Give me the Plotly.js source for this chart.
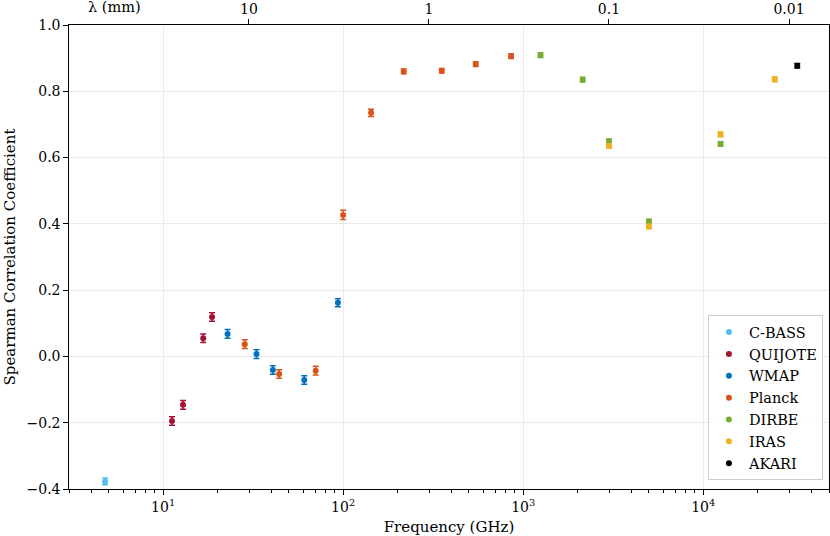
<!DOCTYPE html>
<html>
<head>
<meta charset="utf-8">
<script src="https://cdn.plot.ly/plotly-3.0.1.min.js"></script>
<style>html,body{margin:0;padding:0;background:#fff;}#chart{width:830px;height:536px;}</style>
</head>
<body>
<div id="chart"></div>
<script>
// Frequencies (GHz), Spearman coefficients, and uncertainties per survey
const cbassFreq = [4.76];
const cbassRho  = [-0.377];
const cbassErr  = [0.010];

const quijoteFreq = [11.2, 12.9, 16.7, 18.7];
const quijoteRho  = [-0.195, -0.146, 0.055, 0.119];
const quijoteErr  = [0.013, 0.013, 0.013, 0.013];

const wmapFreq = [22.8, 33.0, 40.7, 60.8, 93.5];
const wmapRho  = [0.068, 0.007, -0.041, -0.071, 0.162];
const wmapErr  = [0.013, 0.013, 0.013, 0.013, 0.012];

const planckFreq = [28.4, 44.1, 70.4, 100, 143, 217, 353, 545, 857];
const planckRho  = [0.037, -0.053, -0.043, 0.427, 0.735, 0.860, 0.862, 0.882, 0.906];
const planckErr  = [0.013, 0.013, 0.013, 0.014, 0.011, 0.007, 0.007, 0.007, 0.007];

const dirbeFreq = [1249, 2141, 2998, 4997, 12490];
const dirbeRho  = [0.909, 0.835, 0.649, 0.407, 0.641];
const dirbeErr  = [0.007, 0.007, 0.007, 0.007, 0.007];

const irasFreq = [2998, 4997, 12490, 24980];
const irasRho  = [0.635, 0.392, 0.670, 0.836];
const irasErr  = [0.007, 0.007, 0.007, 0.007];

const akariFreq = [33310];
const akariRho  = [0.877];
const akariErr  = [0.007];

// Bottom axis decade labels
const freqDecades = [1, 2, 3, 4];
// Top axis: wavelength (mm) tick labels
const lambdaTicks = [10, 1, 0.1, 0.01];
const lambdaLabels = ['10', '1', '0.1', '0.01'];
const C_MM_GHZ = 299.792458;

const series = [
  {name: 'C-BASS',  x: cbassFreq,   y: cbassRho,   e: cbassErr,   c: '#4DBEEE'},
  {name: 'QUIJOTE', x: quijoteFreq, y: quijoteRho, e: quijoteErr, c: '#A2142F'},
  {name: 'WMAP',    x: wmapFreq,    y: wmapRho,    e: wmapErr,    c: '#0072BD'},
  {name: 'Planck',  x: planckFreq,  y: planckRho,  e: planckErr,  c: '#D95319'},
  {name: 'DIRBE',   x: dirbeFreq,   y: dirbeRho,   e: dirbeErr,   c: '#77AC30'},
  {name: 'IRAS',    x: irasFreq,    y: irasRho,    e: irasErr,    c: '#EDB120'},
  {name: 'AKARI',   x: akariFreq,   y: akariRho,   e: akariErr,   c: '#000000'}
];

const font = 'DejaVu Serif, Liberation Serif, serif';

const traces = series.map(s => ({
  type: 'scatter', mode: 'markers', name: s.name,
  x: s.x, y: s.y,
  marker: {color: s.c, size: 6, symbol: 'circle'},
  error_y: {type: 'data', array: s.e, visible: true, color: s.c, thickness: 1.5, width: 3},
  xaxis: 'x', yaxis: 'y'
}));

// invisible helper trace so the top (wavelength) axis is drawn
traces.push({type: 'scatter', mode: 'markers', x: [100], y: [0], xaxis: 'x2', yaxis: 'y',
  marker: {opacity: 0}, showlegend: false, hoverinfo: 'skip'});

const logRange = [Math.log10(3), Math.log10(50000)];
const majorVals = freqDecades.map(p => Math.pow(10, p));
const majorText = freqDecades.map(p => '10<sup>' + p + '</sup>');
const minorVals = [];
for (let p = 0; p <= 4; p++) for (let m = 2; m <= 9; m++) minorVals.push(m * Math.pow(10, p));

const layout = {
  width: 830, height: 536,
  margin: {l: 69, r: 1, t: 25, b: 47},
  paper_bgcolor: '#fff', plot_bgcolor: '#fff',
  font: {family: font, size: 14, color: '#000'},
  showlegend: true,
  xaxis: {
    type: 'log', range: logRange, tickmode: 'array', tickvals: majorVals, ticktext: majorText,
    showgrid: true, gridcolor: '#ebebeb', gridwidth: 1,
    ticks: 'outside', ticklen: 4.5, tickwidth: 1, tickcolor: '#000',
    showline: true, linecolor: '#000', linewidth: 1.2, mirror: false,
    tickfont: {family: font, size: 14},
    minor: {tickmode: 'array', tickvals: minorVals, ticks: 'outside', ticklen: 2.5, tickcolor: '#000', showgrid: false},
    title: {text: 'Frequency (GHz)', font: {family: font, size: 15}, standoff: 9},
    zeroline: false
  },
  xaxis2: {
    type: 'log', range: logRange, overlaying: 'x', side: 'top', anchor: 'y',
    tickmode: 'array', tickvals: lambdaTicks.map(l => C_MM_GHZ / l), ticktext: lambdaLabels,
    showgrid: false, ticks: 'outside', ticklen: 4.5, tickcolor: '#000',
    showline: true, linecolor: '#000', linewidth: 1.2,
    tickfont: {family: font, size: 14}, zeroline: false
  },
  yaxis: {
    range: [-0.4, 1.0], dtick: 0.2, tickformat: '.1f',
    showgrid: true, gridcolor: '#ebebeb', gridwidth: 1,
    ticks: 'outside', ticklen: 4.5, tickwidth: 1, tickcolor: '#000',
    showline: true, linecolor: '#000', linewidth: 1.2, mirror: true,
    tickfont: {family: font, size: 14},
    title: {text: 'Spearman Correlation Coefficient', font: {family: font, size: 15}, standoff: 7},
    zeroline: false
  },
  legend: {
    x: 0.992, xanchor: 'right', y: 0.019, yanchor: 'bottom',
    bgcolor: 'rgba(255,255,255,0.85)', bordercolor: '#cccccc', borderwidth: 1,
    font: {family: font, size: 14.5}
  },
  annotations: [{
    text: 'λ (mm)', xref: 'paper', yref: 'paper', x: (114 - 69) / 760, y: 1,
    yshift: 18, showarrow: false, xanchor: 'center', yanchor: 'middle',
    font: {family: font, size: 14.5}
  }]
};

Plotly.newPlot('chart', traces, layout, {displayModeBar: false, staticPlot: true});
</script>
</body>
</html>
